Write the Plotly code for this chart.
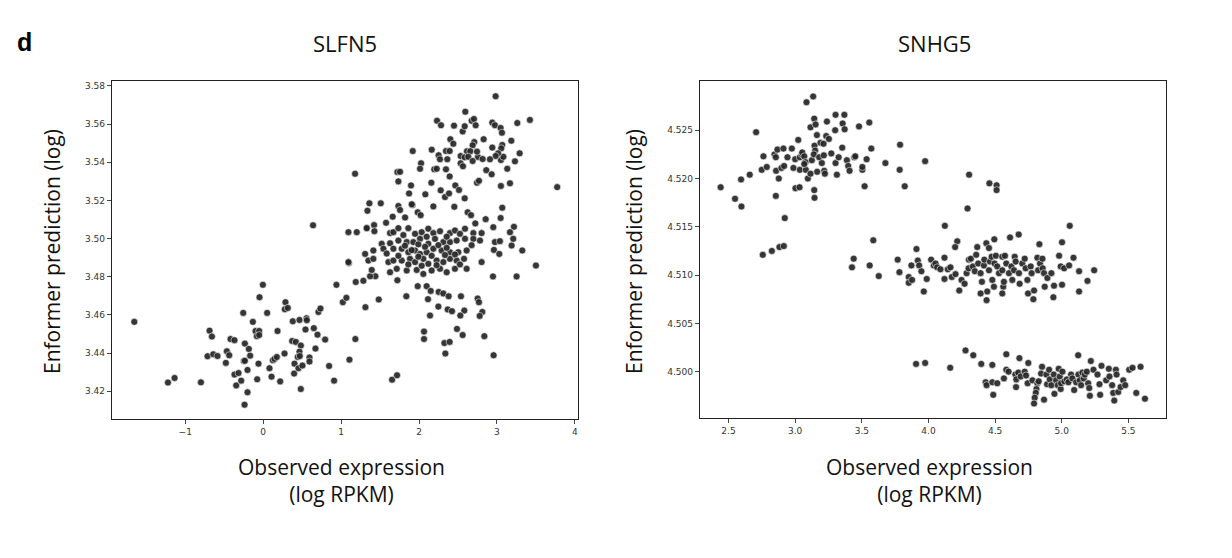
import plotly.graph_objs as go

# SLFN5 panel
slfn5_low_x = [
    -1.654, -1.222, -1.137, -0.799, -0.688, -0.658, -0.714, -0.641, -0.586, -0.466,
    -0.436, -0.479, -0.419, -0.368, -0.368, -0.316, -0.346, -0.282, -0.256, -0.235,
    -0.184, -0.167, -0.248, -0.235, -0.201, -0.201, -0.239, -0.132, -0.098, -0.051,
    -0.081, -0.051, -0.047, -0.004, 0.051, -0.060, -0.077, 0.081, 0.107, 0.124,
    0.145, 0.175, 0.218, 0.184, 0.274, 0.278, 0.286, 0.316, 0.380, 0.466,
    0.556, 0.560, 0.372, 0.419, 0.483, 0.466, 0.444, 0.470, 0.402, 0.397,
    0.453, 0.504, 0.483, 0.543, 0.594, 0.594, 0.650, 0.697, 0.671, 0.709,
    0.735, 0.795, 0.846, 0.910, 0.940, 1.022, 1.068, 1.099, 1.107, 1.188,
    1.183, 0.640]
slfn5_low_y = [
    3.4564, 3.4246, 3.4270, 3.4247, 3.4518, 3.4487, 3.4384, 3.4394, 3.4385, 3.4410,
    3.4389, 3.4349, 3.4474, 3.4468, 3.4288, 3.4296, 3.4231, 3.4256, 3.4611, 3.4450,
    3.4422, 3.4387, 3.4359, 3.4360, 3.4312, 3.4195, 3.4130, 3.4564, 3.4516, 3.4516,
    3.4489, 3.4495, 3.4693, 3.4758, 3.4611, 3.4345, 3.4263, 3.4321, 3.4277, 3.4363,
    3.4370, 3.4380, 3.4252, 3.4516, 3.4398, 3.4630, 3.4667, 3.4637, 3.4567, 3.4574,
    3.4583, 3.4573, 3.4464, 3.4459, 3.4440, 3.4408, 3.4380, 3.4385, 3.4345, 3.4293,
    3.4321, 3.4335, 3.4212, 3.4524, 3.4377, 3.4356, 3.4531, 3.4497, 3.4424, 3.4616,
    3.4634, 3.4471, 3.4333, 3.4256, 3.4758, 3.4667, 3.4690, 3.4873, 3.4366, 3.4773,
    3.4474, 3.5070]

slfn5_under_x = [
    1.286, 1.312, 1.483, 1.440, 1.372, 1.722, 1.837, 1.983, 2.098, 2.150,
    2.115, 2.252, 2.312, 2.380, 2.248, 2.141, 2.368, 2.423, 2.538, 2.581,
    2.530, 2.487, 2.560, 2.064, 2.064, 2.325, 2.393, 2.338, 2.752, 2.769,
    2.812, 2.778, 2.838, 2.957, 2.949, 3.252, 1.654, 1.718, 3.773]
slfn5_under_y = [
    3.4779, 3.4641, 3.4681, 3.4803, 3.4803, 3.4782, 3.4698, 3.4751, 3.4751, 3.4726,
    3.4683, 3.4721, 3.4713, 3.4698, 3.4644, 3.4597, 3.4629, 3.4620, 3.4698, 3.4623,
    3.4597, 3.4527, 3.4495, 3.4513, 3.4474, 3.4453, 3.4459, 3.4398, 3.4686, 3.4667,
    3.4616, 3.4595, 3.4489, 3.4389, 3.4802, 3.4802, 3.4261, 3.4284, 3.5270]

slfn5_upper_x = [
    2.983, 2.594, 2.231, 2.282, 2.449, 2.560, 2.586, 2.675, 2.705, 2.727,
    2.940, 2.974, 3.047, 3.064, 3.261, 3.423, 2.402, 2.440, 2.709, 2.829,
    2.940, 3.068, 3.055, 3.184, 3.291, 3.231, 3.132, 3.051, 3.082, 3.015,
    2.983, 2.910, 2.863, 2.932, 2.756, 2.816, 2.688, 2.615, 2.658, 2.744,
    2.534, 2.586, 2.632, 2.688, 2.534, 2.564, 2.744, 2.769, 3.051, 3.167,
    3.068, 3.047, 2.346, 2.393, 2.252, 2.269, 2.363, 2.346, 2.393, 2.196,
    2.227, 2.163, 2.026, 2.013, 2.158, 2.278, 2.333, 2.385, 2.466, 2.513,
    2.586, 2.453, 2.184, 2.081, 1.897, 1.872, 1.915, 1.722, 1.756, 1.735,
    1.919, 1.179, 1.363, 1.509, 1.338, 1.735, 1.756, 1.906, 1.983, 2.021,
    2.624, 2.667, 2.855, 3.218, 2.722, 1.662, 1.821, 1.423, 1.329, 1.577]
slfn5_upper_y = [
    3.5746, 3.5665, 3.5618, 3.5594, 3.5592, 3.5562, 3.5589, 3.5618, 3.5627, 3.5594,
    3.5608, 3.5594, 3.5580, 3.5555, 3.5606, 3.5622, 3.5521, 3.5497, 3.5506, 3.5521,
    3.5477, 3.5491, 3.5473, 3.5513, 3.5447, 3.5405, 3.5366, 3.5412, 3.5429, 3.5447,
    3.5433, 3.5416, 3.5359, 3.5337, 3.5428, 3.5417, 3.5489, 3.5458, 3.5458, 3.5456,
    3.5433, 3.5426, 3.5429, 3.5407, 3.5395, 3.5379, 3.5293, 3.5303, 3.5276, 3.5290,
    3.5162, 3.5108, 3.5459, 3.5459, 3.5437, 3.5416, 3.5416, 3.5363, 3.5326, 3.5363,
    3.5366, 3.5466, 3.5395, 3.5366, 3.5293, 3.5253, 3.5218, 3.5237, 3.5279, 3.5255,
    3.5211, 3.5167, 3.5169, 3.5232, 3.5279, 3.5237, 3.5176, 3.5349, 3.5350, 3.5300,
    3.5459, 3.5340, 3.5185, 3.5185, 3.5146, 3.5171, 3.5150, 3.5180, 3.5138, 3.5123,
    3.5138, 3.5123, 3.5102, 3.5062, 3.5080, 3.5115, 3.5111, 3.5071, 3.5057, 3.5083]

slfn5_core_x = [
    1.094, 1.201, 1.329, 1.427, 1.628, 1.671, 1.735, 1.863, 1.949, 2.034,
    2.119, 2.184, 2.269, 2.397, 2.461, 2.525, 2.590, 2.697, 2.803, 2.953,
    3.167, 1.521, 1.628, 1.735, 1.842, 1.927, 2.013, 2.119, 2.205, 2.312,
    2.397, 2.483, 2.590, 2.697, 2.782, 2.974, 3.038, 3.188, 3.209, 1.308,
    1.414, 1.543, 1.671, 1.778, 1.863, 1.949, 2.013, 2.098, 2.184, 2.290,
    2.397, 2.504, 2.611, 2.961, 3.030, 3.325, 1.094, 1.350, 1.414, 1.607,
    1.671, 1.778, 1.884, 1.949, 2.055, 2.119, 2.226, 2.312, 2.397, 2.483,
    2.577, 2.803, 3.500, 1.393, 1.628, 1.714, 1.842, 1.970, 2.055, 2.162,
    2.269, 2.355, 2.461, 2.611, 1.906, 1.820, 1.991, 2.077, 2.248, 2.355,
    1.735, 1.991, 2.162, 2.333, 2.461, 1.863, 2.034, 2.226, 2.525, 2.098,
    2.355, 1.799, 2.675, 1.585]
slfn5_core_y = [
    3.5034, 3.5034, 3.5055, 3.5039, 3.5029, 3.5034, 3.5055, 3.5055, 3.5025, 3.5034,
    3.5052, 3.5029, 3.5039, 3.5029, 3.5043, 3.5025, 3.5052, 3.5029, 3.5029, 3.5060,
    3.5034, 3.4973, 3.4976, 3.4990, 3.4982, 3.4982, 3.4999, 3.4973, 3.4999, 3.4982,
    3.4982, 3.4990, 3.4999, 3.4999, 3.4990, 3.4982, 3.4987, 3.4964, 3.4999, 3.4920,
    3.4938, 3.4947, 3.4947, 3.4947, 3.4929, 3.4938, 3.4920, 3.4929, 3.4947, 3.4938,
    3.4929, 3.4929, 3.4938, 3.4941, 3.4920, 3.4938, 3.4877, 3.4885, 3.4894, 3.4877,
    3.4885, 3.4885, 3.4894, 3.4877, 3.4894, 3.4868, 3.4885, 3.4877, 3.4894, 3.4885,
    3.4894, 3.4877, 3.4859, 3.4836, 3.4824, 3.4842, 3.4833, 3.4836, 3.4815, 3.4833,
    3.4842, 3.4824, 3.4842, 3.4842, 3.4940, 3.4963, 3.4970, 3.4957, 3.4966, 3.4952,
    3.4910, 3.4905, 3.4910, 3.4914, 3.4917, 3.4865, 3.4858, 3.4861, 3.4865, 3.5010,
    3.5010, 3.5019, 3.4966, 3.4922]

# SNHG5 panel
snhg5_top_x = [
    2.441, 2.549, 2.597, 2.594, 2.659, 2.707, 2.749, 2.762, 2.787, 2.845,
    2.855, 2.867, 2.857, 2.877, 2.912, 2.897, 2.917, 2.942, 2.975, 2.987,
    3.023, 3.000, 3.035, 3.035, 3.050, 3.053, 3.068, 3.078, 3.080, 3.068,
    3.095, 3.115, 3.085, 3.135, 3.115, 3.143, 3.153, 3.145, 3.150, 3.125,
    3.163, 3.140, 3.165, 3.190, 3.180, 3.200, 3.213, 3.215, 3.218, 3.223,
    3.238, 3.233, 3.253, 3.271, 3.303, 3.300, 3.303, 3.313, 3.326, 3.356,
    3.369, 3.371, 3.353, 3.388, 3.398, 3.408, 3.444, 3.451, 3.479, 3.504,
    3.504, 3.521, 3.536, 3.556, 3.571, 3.677, 3.787, 3.784, 3.822, 3.975,
    3.002, 3.033, 3.143, 3.145, 2.855, 2.922, 2.757, 2.825, 2.882, 2.915,
    4.305, 4.293, 4.457, 4.511, 4.511]
snhg5_top_y = [
    4.5191, 4.5179, 4.5171, 4.5199, 4.5204, 4.5248, 4.5209, 4.5223, 4.5212, 4.5225,
    4.5222, 4.5230, 4.5208, 4.5200, 4.5231, 4.5211, 4.5213, 4.5222, 4.5231, 4.5211,
    4.5240, 4.5220, 4.5222, 4.5209, 4.5225, 4.5227, 4.5223, 4.5217, 4.5209, 4.5215,
    4.5200, 4.5205, 4.5279, 4.5285, 4.5253, 4.5262, 4.5256, 4.5234, 4.5229, 4.5219,
    4.5245, 4.5225, 4.5207, 4.5237, 4.5222, 4.5216, 4.5236, 4.5224, 4.5208, 4.5205,
    4.5259, 4.5244, 4.5241, 4.5226, 4.5266, 4.5250, 4.5216, 4.5204, 4.5222, 4.5257,
    4.5266, 4.5251, 4.5232, 4.5219, 4.5213, 4.5208, 4.5222, 4.5223, 4.5254, 4.5209,
    4.5212, 4.5192, 4.5220, 4.5258, 4.5231, 4.5216, 4.5235, 4.5209, 4.5192, 4.5218,
    4.5190, 4.5191, 4.5188, 4.5180, 4.5182, 4.5159, 4.5121, 4.5125, 4.5129, 4.5130,
    4.5204, 4.5169, 4.5195, 4.5193, 4.5188]

snhg5_mid_x = [
    4.123, 5.060, 3.586, 4.216, 4.200, 4.366, 4.434, 4.454, 4.494, 4.612,
    4.677, 4.832, 5.002, 3.910, 3.439, 3.426, 3.559, 3.627, 3.769, 3.782,
    3.872, 3.920, 3.930, 3.947, 3.852, 3.852, 3.877, 3.965, 3.987, 4.020,
    4.040, 4.053, 4.065, 4.090, 4.120, 4.120, 4.145, 4.165, 4.175, 4.203,
    4.231, 4.248, 4.271, 4.286, 4.301, 4.303, 4.318, 4.333, 4.348, 4.358,
    4.373, 4.391, 4.401, 4.391, 4.416, 4.419, 4.436, 4.454, 4.461, 4.474,
    4.479, 4.496, 4.506, 4.516, 4.529, 4.554, 4.554, 4.561, 4.566, 4.574,
    4.584, 4.604, 4.622, 4.629, 4.642, 4.647, 4.654, 4.679, 4.684, 4.704,
    4.722, 4.729, 4.742, 4.747, 4.767, 4.774, 4.787, 4.792, 4.817, 4.822,
    4.837, 4.855, 4.857, 4.867, 4.872, 4.892, 4.922, 4.942, 4.937, 4.980,
    4.992, 5.002, 5.018, 5.055, 5.088, 5.130, 5.130, 5.193, 5.243, 4.491,
    4.441, 4.554]
snhg5_mid_y = [
    4.5151, 4.5151, 4.5136, 4.5135, 4.5129, 4.5129, 4.5133, 4.5128, 4.5137, 4.5139,
    4.5142, 4.5132, 4.5134, 4.5127, 4.5117, 4.5108, 4.5110, 4.5099, 4.5116, 4.5103,
    4.5110, 4.5115, 4.5110, 4.5104, 4.5098, 4.5092, 4.5095, 4.5083, 4.5096, 4.5116,
    4.5110, 4.5112, 4.5108, 4.5106, 4.5118, 4.5096, 4.5106, 4.5108, 4.5098, 4.5101,
    4.5084, 4.5095, 4.5091, 4.5102, 4.5107, 4.5116, 4.5117, 4.5109, 4.5104, 4.5121,
    4.5112, 4.5102, 4.5093, 4.5081, 4.5110, 4.5116, 4.5074, 4.5105, 4.5114, 4.5119,
    4.5095, 4.5112, 4.5120, 4.5109, 4.5102, 4.5105, 4.5119, 4.5088, 4.5093, 4.5120,
    4.5112, 4.5102, 4.5109, 4.5095, 4.5105, 4.5119, 4.5114, 4.5102, 4.5091, 4.5112,
    4.5117, 4.5107, 4.5095, 4.5081, 4.5109, 4.5102, 4.5075, 4.5084, 4.5118, 4.5105,
    4.5112, 4.5117, 4.5107, 4.5102, 4.5088, 4.5097, 4.5102, 4.5089, 4.5077, 4.5120,
    4.5109, 4.5090, 4.5107, 4.5110, 4.5118, 4.5104, 4.5083, 4.5094, 4.5105, 4.5088,
    4.5083, 4.5081]

snhg5_low_x = [
    3.907, 3.975, 4.163, 4.278, 4.336, 4.396, 4.479, 4.584, 4.682, 4.749,
    4.429, 4.436, 4.479, 4.516, 4.486, 4.566, 4.584, 4.601, 4.652, 4.659,
    4.657, 4.674, 4.692, 4.722, 4.732, 4.744, 4.780, 4.817, 4.810, 4.805,
    4.797, 4.792, 4.827, 4.852, 4.845, 4.867, 4.885, 4.890, 4.905, 4.910,
    4.922, 4.940, 4.945, 4.957, 4.970, 4.977, 4.985, 4.992, 4.995, 5.005,
    5.020, 5.038, 5.050, 5.070, 5.080, 5.093, 5.108, 5.123, 5.125, 5.135,
    5.145, 5.155, 5.165, 5.173, 5.188, 5.198, 5.206, 5.211, 5.218, 5.238,
    5.268, 5.283, 5.288, 5.298, 5.333, 5.353, 5.358, 5.378, 5.386, 5.394,
    5.406, 5.411, 5.424, 5.441, 5.461, 5.476, 5.506, 5.531, 5.559, 5.591,
    5.624]
snhg5_low_y = [
    4.5008, 4.5009, 4.5004, 4.5022, 4.5017, 4.5008, 4.5007, 4.5018, 4.5014, 4.5009,
    4.4989, 4.4986, 4.4989, 4.4988, 4.4976, 4.4993, 4.5002, 4.5000, 4.4997, 4.4992,
    4.4984, 4.4999, 4.4995, 4.5000, 4.4996, 4.4988, 4.4991, 4.4988, 4.4982, 4.4978,
    4.4973, 4.4967, 4.4990, 4.5005, 4.4998, 4.4971, 4.4997, 4.4987, 4.5002, 4.4992,
    4.4986, 4.4997, 4.4977, 4.4991, 4.4986, 4.5003, 4.4995, 4.4982, 4.4988, 4.5000,
    4.4990, 4.4992, 4.4989, 4.4997, 4.4993, 4.4981, 4.4989, 4.5017, 4.4997, 4.4991,
    4.4986, 4.4999, 4.4993, 4.4997, 4.5000, 4.4988, 4.4983, 4.4975, 4.5011, 4.5002,
    4.4997, 4.4987, 4.4976, 4.5006, 4.4991, 4.5003, 4.4995, 4.4986, 4.4978, 4.4970,
    4.5002, 4.4997, 4.4979, 4.4984, 4.4991, 4.4986, 4.5002, 4.5004, 4.4978, 4.5005,
    4.4972]

slfn5_x = slfn5_low_x + slfn5_under_x + slfn5_upper_x + slfn5_core_x
slfn5_y = slfn5_low_y + slfn5_under_y + slfn5_upper_y + slfn5_core_y
snhg5_x = snhg5_top_x + snhg5_mid_x + snhg5_low_x
snhg5_y = snhg5_top_y + snhg5_mid_y + snhg5_low_y

dot = dict(size=7, color='#262626', opacity=0.92, line=dict(color='white', width=0.6))

data = [
    go.Scatter(x=slfn5_x, y=slfn5_y, mode='markers', marker=dot, xaxis='x', yaxis='y', showlegend=False),
    go.Scatter(x=snhg5_x, y=snhg5_y, mode='markers', marker=dot, xaxis='x2', yaxis='y2', showlegend=False),
]

W, H = 1232, 558
OFF = 8  # the page body margin shifts the figure by this much


def px(x):
    return (x - OFF) / W


def py(y):
    return 1 - (y - OFF) / H


tickfont = dict(family='DejaVu Sans', size=9, color='#333333')
label_font = dict(family='Open Sans', size=21, color='#111111')
title_font = dict(family='Open Sans', size=22, color='#111111')


def axis(dom, rng, ticks, fmt, anchor):
    return dict(
        domain=dom, range=rng, tickvals=ticks, tickformat=fmt, anchor=anchor,
        showgrid=False, zeroline=False, showline=True, mirror=True,
        linecolor='#222222', linewidth=1.4, ticks='outside', ticklen=4,
        tickwidth=1, tickcolor='#444444', tickfont=tickfont,
    )


def note(text, x, y, font, angle=0):
    return dict(text=text, x=px(x), y=py(y), xref='paper', yref='paper',
                xanchor='center', yanchor='middle', textangle=angle,
                showarrow=False, font=font)


layout = go.Layout(
    width=W, height=H,
    paper_bgcolor='white', plot_bgcolor='white',
    margin=dict(l=0, r=0, t=0, b=0),
    xaxis=axis([px(112), px(578)], [-1.94, 4.04], [-1, 0, 1, 2, 3, 4], 'd', 'y'),
    yaxis=axis([py(419), py(81)], [3.4055, 3.5826],
               [3.42, 3.44, 3.46, 3.48, 3.50, 3.52, 3.54, 3.56, 3.58], '.2f', 'x'),
    xaxis2=axis([px(700), px(1166)], [2.286, 5.782], [2.5, 3.0, 3.5, 4.0, 4.5, 5.0, 5.5], '.1f', 'y2'),
    yaxis2=axis([py(418), py(81)], [4.4952, 4.5301],
                [4.500, 4.505, 4.510, 4.515, 4.520, 4.525], '.3f', 'x2'),
    annotations=[
        note('<b>d</b>', 24, 42, dict(family='Liberation Sans', size=25, color='black')),
        note('SLFN5', 345, 43, title_font),
        note('SNHG5', 934, 43, title_font),
        note('Enformer prediction (log)', 52, 252, label_font, -90),
        note('Enformer prediction (log)', 634, 252, label_font, -90),
        note('Observed expression<br>(log RPKM)', 341, 480, label_font),
        note('Observed expression<br>(log RPKM)', 929, 480, label_font),
    ],
)

fig = go.Figure(data=data, layout=layout)
fig.write_html('out.html')
